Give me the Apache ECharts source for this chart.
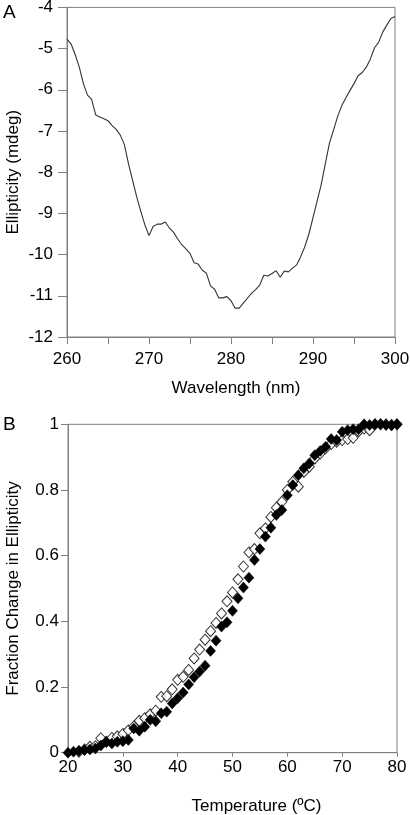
<!DOCTYPE html>
<html>
<head>
<meta charset="utf-8">
<script src="https://cdn.jsdelivr.net/npm/echarts@6/dist/echarts.min.js"></script>
<style>
html,body{margin:0;padding:0;background:#fff;}
#c{width:410px;height:815px;}
</style>
</head>
<body>
<div id="c"></div>
<script>
// Panel A: CD spectrum
var wavelengths = [260.0,260.5,261.0,261.5,262.0,262.5,263.0,263.5,264.0,264.5,265.0,265.5,266.0,266.5,267.0,267.5,268.0,268.5,269.0,269.5,
  270.0,270.5,271.0,271.5,272.0,272.5,273.0,273.5,274.0,274.5,275.0,275.5,276.0,276.5,277.0,277.5,278.0,278.5,279.0,279.5,
  280.0,280.5,281.0,281.5,282.0,282.5,283.0,283.5,284.0,284.5,285.0,285.5,286.0,286.5,287.0,287.5,288.0,288.5,289.0,289.5,
  290.0,290.5,291.0,291.5,292.0,292.5,293.0,293.5,294.0,294.5,295.0,295.5,296.0,296.5,297.0,297.5,298.0,298.5,299.0,299.5,300.0];
var ellipticity = [-4.77,-4.89,-5.15,-5.45,-5.85,-6.13,-6.23,-6.61,-6.66,-6.70,-6.75,-6.87,-6.96,-7.10,-7.33,-7.80,-8.20,-8.60,-8.95,-9.28,
  -9.54,-9.32,-9.26,-9.26,-9.21,-9.36,-9.46,-9.62,-9.76,-9.86,-9.97,-10.20,-10.23,-10.38,-10.45,-10.76,-10.84,-11.05,-11.05,-11.02,
  -11.12,-11.30,-11.30,-11.18,-11.06,-10.94,-10.85,-10.74,-10.50,-10.52,-10.46,-10.39,-10.55,-10.40,-10.42,-10.33,-10.25,-10.05,-9.81,-9.50,
  -9.10,-8.70,-8.30,-7.80,-7.30,-6.98,-6.65,-6.39,-6.20,-6.02,-5.85,-5.66,-5.58,-5.45,-5.25,-4.98,-4.85,-4.60,-4.43,-4.27,-4.22];

// Panel B: thermal melt (filled and open diamonds)
var tempFilled = [20,21,22,23,24,25,26,27,28,29,30,31,32,33,34,35,36,37,38,39,40,41,42,43,44,45,46,47,48,49,50,
  51,52,53,54,55,56,57,58,59,60,61,62,63,64,65,66,67,68,69,70,71,72,73,74,75,76,77,78,79,80];
var fracFilled = [0,0.003,0.006,0.008,0.010,0.013,0.022,0.033,0.028,0.033,0.035,0.039,0.074,0.067,0.079,0.100,0.096,0.120,0.125,0.150,0.166,
  0.183,0.208,0.230,0.247,0.265,0.310,0.341,0.384,0.397,0.432,0.470,0.503,0.533,0.587,0.620,0.658,0.685,0.724,0.739,0.784,
  0.815,0.845,0.866,0.881,0.906,0.919,0.932,0.955,0.952,0.977,0.982,0.985,0.985,1.000,0.998,1.000,1.000,0.998,0.997,1.000];
var tempOpen = [22,23,24,25,26,27,28,29,30,31,32,33,34,35,36,37,38,39,40,41,42,43,44,45,46,47,48,49,50,
  51,52,53,54,55,56,57,58,59,60,61,62,63,64,65,66,67,68,69,70,71,72,73,74,75,76,77,78,79,80];
var fracOpen = [0.003,0.010,0.018,0.020,0.044,0.033,0.045,0.050,0.057,0.068,0.080,0.097,0.105,0.117,0.128,0.170,0.172,0.193,0.222,0.231,
  0.252,0.287,0.314,0.344,0.370,0.395,0.424,0.461,0.488,0.528,0.567,0.610,0.620,0.668,0.683,0.718,0.746,0.764,0.800,0.825,
  0.810,0.855,0.871,0.896,0.911,0.927,0.940,0.947,0.952,0.955,0.959,0.979,0.987,0.982,1.000,1.000,1.000,0.998,1.000];

function pairs(xs, ys){ return xs.map(function(x,i){ return [x, ys[i]]; }); }

var FONT = '"Liberation Sans", Arial, Helvetica, sans-serif';
var AX = '#808080';
var lbl = {color:'#000', fontSize:17, fontFamily:FONT};

var chart = echarts.init(document.getElementById('c'), null, {renderer:'canvas'});
chart.setOption({
  animation:false,
  backgroundColor:'#fff',
  textStyle:{fontFamily:FONT},
  title:[
    {text:'A', left:3, top:3, padding:0, textStyle:{fontSize:19, fontWeight:'normal', color:'#000', fontFamily:FONT}},
    {text:'B', left:3, top:415, padding:0, textStyle:{fontSize:19, fontWeight:'normal', color:'#000', fontFamily:FONT}}
  ],
  grid:[
    {left:67, top:7.4, width:328, height:329.6, show:true, borderColor:AX, borderWidth:1, containLabel:false, outerBoundsMode:'none'},
    {left:68, top:424.3, width:329, height:328.4, show:true, borderColor:AX, borderWidth:1, containLabel:false, outerBoundsMode:'none'}
  ],
  xAxis:[
    {type:'value', gridIndex:0, min:260, max:300, interval:5,
     name:'Wavelength (nm)', nameLocation:'middle', nameGap:43, nameMoveOverlap:false,
     nameTextStyle:{color:'#000', fontSize:17, fontFamily:FONT, padding:[0,0,0,10]},
     axisLine:{lineStyle:{color:AX, width:1}},
     axisTick:{show:true, inside:false, length:7, lineStyle:{color:AX}},
     axisLabel:Object.assign({margin:14, formatter:function(v){ return v%10===0 ? String(v) : ''; }}, lbl),
     splitLine:{show:false}},
    {type:'value', gridIndex:1, min:20, max:80, interval:10,
     name:'Temperature (ºC)', nameLocation:'middle', nameGap:45, nameMoveOverlap:false,
     nameTextStyle:{color:'#000', fontSize:17, fontFamily:FONT, padding:[0,0,0,48]},
     axisLine:{lineStyle:{color:AX, width:1}},
     axisTick:{show:true, inside:false, length:4, lineStyle:{color:AX}},
     axisLabel:Object.assign({margin:6}, lbl),
     splitLine:{show:false}}
  ],
  yAxis:[
    {type:'value', gridIndex:0, min:-12, max:-4, interval:1,
     name:'Ellipticity (mdeg)', nameLocation:'middle', nameGap:45, nameRotate:90, nameMoveOverlap:false,
     nameTextStyle:{color:'#000', fontSize:17, fontFamily:FONT},
     axisLine:{lineStyle:{color:AX, width:1}},
     axisTick:{show:true, inside:false, length:9, lineStyle:{color:AX}},
     axisLabel:Object.assign({margin:14}, lbl),
     splitLine:{show:false}},
    {type:'value', gridIndex:1, min:0, max:1, interval:0.2,
     name:'Fraction Change in Ellipticity', nameLocation:'middle', nameGap:46, nameRotate:90, nameMoveOverlap:false,
     nameTextStyle:{color:'#000', fontSize:17, fontFamily:FONT},
     axisLine:{lineStyle:{color:AX, width:1}},
     axisTick:{show:true, inside:false, length:7, lineStyle:{color:AX}},
     axisLabel:Object.assign({margin:9, formatter:function(v){ return String(Math.round(v*10)/10); }}, lbl),
     splitLine:{show:false}}
  ],
  series:[
    {type:'line', xAxisIndex:0, yAxisIndex:0, data:pairs(wavelengths, ellipticity),
     showSymbol:false, smooth:false, lineStyle:{color:'#333', width:1.1}},
    {type:'scatter', xAxisIndex:1, yAxisIndex:1, data:pairs(tempOpen, fracOpen),
     symbol:'diamond', symbolSize:[10,11],
     itemStyle:{color:'#fff', borderColor:'#000', borderWidth:1}},
    {type:'scatter', xAxisIndex:1, yAxisIndex:1, data:pairs(tempFilled, fracFilled),
     symbol:'diamond', symbolSize:[10,11],
     itemStyle:{color:'#000', borderColor:'#000', borderWidth:0.5, opacity:1}}
  ]
});
</script>
</body>
</html>
